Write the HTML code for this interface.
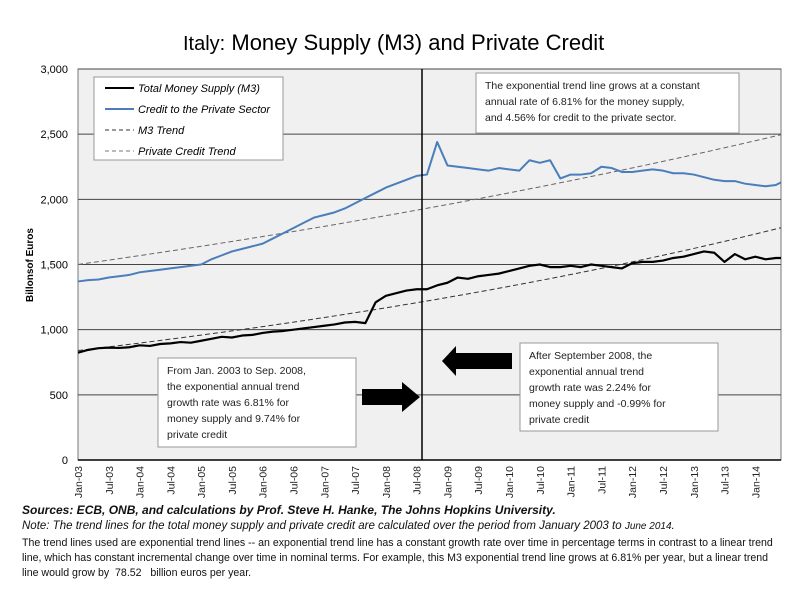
<!DOCTYPE html>
<html><head><meta charset="utf-8"><style>
body{margin:0;background:#fff;width:800px;height:590px;overflow:hidden;font-family:"Liberation Sans",sans-serif}
svg text{font-family:"Liberation Sans",sans-serif}
.note{position:absolute;left:22px;font-size:10.5px;color:#111;white-space:nowrap;transform-origin:left top}
</style></head><body>
<svg id="chart" width="800" height="590" style="position:absolute;left:0;top:0">
<text x="183" y="50" font-size="22"><tspan font-size="20">Italy:</tspan> Money Supply (M3) and Private Credit</text>
<text transform="translate(33,265) rotate(-90)" text-anchor="middle" font-size="10" font-weight="bold">Billonsof Euros</text>
<g id="plot"></g>
</svg>
<div class="note" style="top:503px;font-size:12px;font-weight:bold;font-style:italic">Sources: ECB, ONB, and calculations by Prof. Steve H. Hanke, The Johns Hopkins University.</div>
<div class="note" style="top:520px;font-size:11.5px;font-style:italic">Note: The trend lines for the total money supply and private credit are calculated over the period from January 2003 to <span style="font-size:10px">June 2014</span>.</div>
<div class="note" style="top:536px;line-height:15px;font-size:10.6px">The trend lines used are exponential trend lines -- an exponential trend line has a constant growth rate over time in percentage terms in contrast to a linear trend<br>line, which has constant incremental change over time in nominal terms. For example, this M3 exponential trend line grows at 6.81% per year, but a linear trend<br>line would grow by &nbsp;78.52 &nbsp; billion euros per year.</div>
<script>
const months=[];for(let i=0;i<=136;i+=2)months.push(i);months.push(137);
const m3=[823,845,858,862,860,865, 880,875,890,895,905,900, 915,930,945,940,955,960, 975,985,990,1000,1010,1020, 1030,1040,1055,1060,1050,1210, 1260,1280,1300,1310,1310,1340, 1360,1400,1390,1410,1420,1430, 1450,1470,1490,1500,1480,1480, 1490,1480,1500,1490,1480,1470, 1510,1520,1520,1530,1550,1560, 1580,1600,1590,1520,1580,1540, 1560,1540,1550,1550];
const credit=[1370,1380,1385,1400,1410,1420, 1440,1450,1460,1470,1480,1490, 1500,1540,1570,1600,1620,1640, 1660,1700,1740,1780,1820,1860, 1880,1900,1930,1970,2010,2050, 2090,2120,2150,2180,2190,2440, 2260,2250,2240,2230,2220,2240, 2230,2220,2300,2280,2300,2160, 2190,2190,2200,2250,2240,2210, 2210,2220,2230,2220,2200,2200, 2190,2170,2150,2140,2140,2120, 2110,2100,2110,2130];
const trendStart=[840,1500];
const trendRate=[0.0681,0.0456];
const yTicks=[0,500,1000,1500,2000,2500,3000];
const yTickLabels=["0","500","1,000","1,500","2,000","2,500","3,000"];
const xTickLabels=["Jan-03","Jul-03","Jan-04","Jul-04","Jan-05","Jul-05","Jan-06","Jul-06","Jan-07","Jul-07","Jan-08","Jul-08","Jan-09","Jul-09","Jan-10","Jul-10","Jan-11","Jul-11","Jan-12","Jul-12","Jan-13","Jul-13","Jan-14"];
const L=78,R=781,T=69,B=460,NM=137;
const x=m=>L+(R-L)*m/NM, y=v=>B-(B-T)*v/3000;
const NS="http://www.w3.org/2000/svg",g=document.getElementById('plot');
function mk(t,a,p){const e=document.createElementNS(NS,t);for(const k in a)e.setAttribute(k,a[k]);(p||g).appendChild(e);return e;}
let e=mk('rect',{x:L,y:T,width:R-L,height:B-T,fill:'#f0f0f0',stroke:'#777'});

yTicks.forEach((v,i)=>{
 const l=mk('line',{x1:L,x2:R,y1:y(v),y2:y(v),stroke:i==0?'#000':'#444','stroke-width':i==0?1.5:1});
 
 const t=mk('text',{x:L-10,y:y(v)+4,'text-anchor':'end','font-size':11});t.textContent=yTickLabels[i];
 
});
xTickLabels.forEach((s,i)=>{
 const t=mk('text',{transform:`translate(${x(i*6)+4},${B+6}) rotate(-90)`,'text-anchor':'end','font-size':10.5,fill:'#222'});t.textContent=s;
 
});
function tr(k,dash,col,name){
 let d='';for(let m=0;m<=NM;m++){d+=(m?'L':'M')+x(m)+','+y(trendStart[k]*Math.pow(1+trendRate[k],m/12));}
 const p=mk('path',{d,fill:'none',stroke:col,'stroke-width':1,'stroke-dasharray':dash});
 
}
tr(0,'5,3','#333','m3-trend-line');tr(1,'5,3','#666','credit-trend-line');
function ln(vals,col,w,name){
 const d=vals.map((v,i)=>(i?'L':'M')+x(months[i])+','+y(v)).join('');
 const p=mk('path',{d,fill:'none',stroke:col,'stroke-width':w,'stroke-linejoin':'round'});
 
}
ln(credit,'#4a7ebb',2,'credit-line');ln(m3,'#000',2.2,'m3-line');
e=mk('line',{x1:422,x2:422,y1:T,y2:B,stroke:'#000','stroke-width':1.5});

e=mk('rect',{x:94,y:77,width:189,height:83,fill:'#fff',stroke:'#999'});

[['Total Money Supply (M3)','#000',2,''],['Credit to the Private Sector','#4a7ebb',2,''],['M3 Trend','#333',1,'4,3'],['Private Credit Trend','#777',1,'4,3']].forEach((it,i)=>{
 const yy=88+i*21;
 mk('line',{x1:105,x2:134,y1:yy,y2:yy,stroke:it[1],'stroke-width':it[2],'stroke-dasharray':it[3]});
 const t=mk('text',{x:138,y:yy+4,'font-size':11,'font-style':'italic'});t.textContent=it[0];
 
});
function box(x0,y0,w,h,lines,name,fs,lh){
 const b=mk('rect',{x:x0,y:y0,width:w,height:h,fill:'#fff',stroke:'#999'});
 
 lines.forEach((s,i)=>{const t=mk('text',{x:x0+9,y:y0+16+i*lh,'font-size':fs,fill:'#222'});t.textContent=s;});
}
box(476,73,263,60,['The exponential trend line grows at a constant','annual rate of  6.81% for the money supply,','and  4.56% for credit to the private sector.'],'trend-rate-annotation',10.5,16);
box(158,358,198,89,['From Jan. 2003 to Sep. 2008,','the exponential annual trend',' growth rate was  6.81%  for','money supply and  9.74%  for','private credit'],'pre-2008-annotation',10.5,16);
box(520,343,198,88,['After September 2008, the','exponential annual trend',' growth rate was  2.24% for','money supply and  -0.99% for','private credit'],'post-2008-annotation',10.5,16);
e=mk('polygon',{points:'362,389 402,389 402,382 420,397 402,412 402,405 362,405',fill:'#000'});

e=mk('polygon',{points:'512,353 456,353 456,346 442,361 456,376 456,369 512,369',fill:'#000'});

</script>
</body></html>
